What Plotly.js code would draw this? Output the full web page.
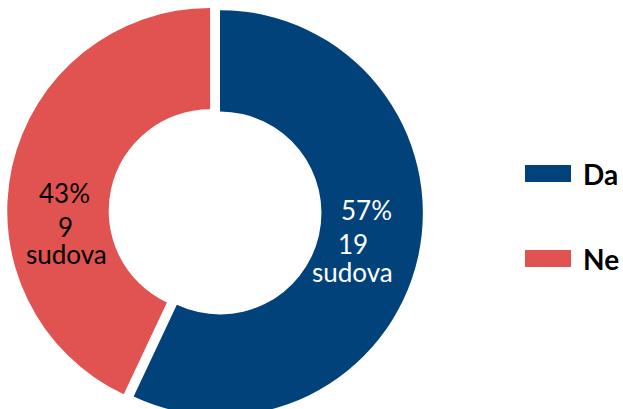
<!DOCTYPE html>
<html>
<head>
<meta charset="utf-8">
<script src="https://cdn.plot.ly/plotly-3.0.1.min.js"></script>
<style>
  html, body { margin: 0; padding: 0; background: #fff; overflow: hidden; }
  #grafico { width: 623px; height: 426px; }
</style>
</head>
<body>
<div id="grafico"></div>
<script>
const labels = ["Da", "Ne"];
const percents = [57, 43];
const counts = [19, 9];
const colors = ["#02427A", "#E05350"];
const textColors = ["#ffffff", "#000000"];

const W = 623, H = 426;
const px = x => x / W;
const py = y => 1 - y / H;

const traces = [{
  type: "pie",
  labels: labels,
  values: percents,
  textinfo: "none",
  marker: { colors: colors, line: { width: 0 } },
  pull: [0, 0.05],
  hole: 0.5,
  sort: false,
  direction: "clockwise",
  rotation: 0,
  domain: { x: [0, 0.7063], y: [0, 1] },
  hoverinfo: "none"
}];

// posições (px) das linhas de rótulo em cada fatia: [x, y] por linha
const labelPos = [
  [[367, 210], [353, 244], [352, 272]],
  [[64, 193], [65, 227], [66, 254]]
];

const shapes = [];
const annotations = [];

labels.forEach((lab, i) => {
  const lines = [`${percents[i]}%`, `${counts[i]}`, "sudova"];
  lines.forEach((t, j) => {
    annotations.push({
      text: t, xref: "paper", yref: "paper",
      x: px(labelPos[i][j][0]), y: py(labelPos[i][j][1]),
      xanchor: "center", yanchor: "middle", showarrow: false,
      font: { family: "Lato", size: 26, color: textColors[i] }
    });
  });

  // legenda feita à mão (espaçamento grande entre itens)
  const top = 165 + 85 * i;
  shapes.push({
    type: "rect", xref: "paper", yref: "paper",
    x0: px(525), x1: px(571), y0: py(top), y1: py(top + 17),
    fillcolor: colors[i], line: { width: 0 }
  });
  annotations.push({
    text: lab, xref: "paper", yref: "paper",
    x: px(581), y: py(top + 9), xanchor: "left", yanchor: "middle",
    showarrow: false,
    font: { family: "Lato", size: 28, weight: "bold", color: "#000" }
  });
});

const layout = {
  width: W,
  height: H,
  margin: { l: 0, r: 0, t: 0, b: 0 },
  showlegend: false,
  paper_bgcolor: "#fff",
  shapes: shapes,
  annotations: annotations
};

Plotly.newPlot("grafico", traces, layout, { staticPlot: true });
</script>
</body>
</html>
